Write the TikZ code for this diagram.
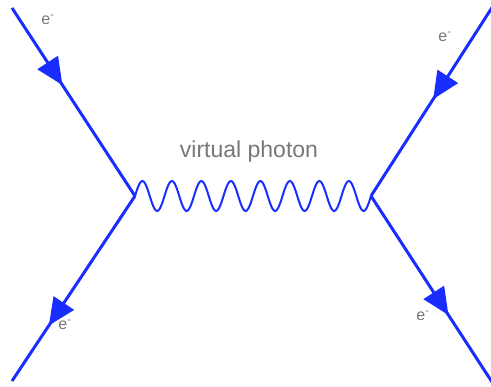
\documentclass[tikz,border=0pt]{standalone}
\usepackage{fontspec}
\setmainfont{Liberation Sans}
\usetikzlibrary{arrows.meta, decorations.markings}
\definecolor{fermion}{RGB}{25,45,255}
\definecolor{lbltext}{RGB}{120,120,120}

\begin{document}
\begin{tikzpicture}[
    x=1pt, y=-1pt,
    fermion/.style={draw=fermion, line width=3pt},
    arrowat/.style={postaction={decorate}, decoration={markings,
        mark=at position #1 with {\arrow[fermion]{Triangle[length=27pt, width=24pt]}}}},
    photon/.style={draw=fermion, line width=2pt},
    elbl/.style={text=lbltext, font=\fontsize{16}{18}\selectfont, inner sep=0pt},
    plbl/.style={text=lbltext, font=\fontsize{23}{27}\selectfont, inner sep=0pt}
]
    \useasboundingbox (0,0) rectangle (491,387);

    % Vertices and free ends
    \coordinate (vtxL) at (135,196);
    \coordinate (vtxR) at (371,196);
    \coordinate (einL) at (12,8);
    \coordinate (eoutL) at (12,381);
    \coordinate (einR) at (493,6);
    \coordinate (eoutR) at (492,382);

    % Electron lines
    \draw[fermion, arrowat=0.41] (einL) -- (vtxL);
    \draw[fermion, arrowat=0.70] (vtxL) -- (eoutL);
    \draw[fermion, arrowat=0.49] (einR) -- (vtxR);
    \draw[fermion, arrowat=0.64] (vtxR) -- (eoutR);

    % Photon: 8 periods from vtxL to vtxR (360/29.5 = 12.2034)
    \draw[photon, shift={(vtxL)}] plot[domain=0:236, samples=161, smooth]
        (\x, {-15*sin(12.2034*\x)});

    % Labels
    \node[plbl] (phot) at (249,152) {virtual photon};
    \node[elbl] (lblTL) at (48,20) {e\textsuperscript{-}};
    \node[elbl] (lblTR) at (445,37) {e\textsuperscript{-}};
    \node[elbl] (lblBL) at (65,325) {e\textsuperscript{-}};
    \node[elbl] (lblBR) at (423,316) {e\textsuperscript{-}};
\end{tikzpicture}
\end{document}
